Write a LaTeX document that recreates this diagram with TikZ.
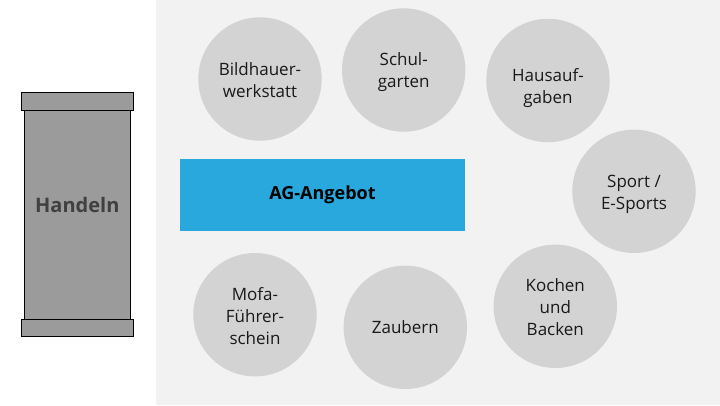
\documentclass[tikz,border=0pt]{standalone}
\usepackage{fontspec}
\setmainfont{Open Sans}
\definecolor{panel}{HTML}{F2F2F2}
\definecolor{bubble}{HTML}{D3D3D3}
\definecolor{pillar}{HTML}{9B9B9B}
\definecolor{agblue}{HTML}{29A8DD}
\definecolor{pillartext}{HTML}{404040}
\begin{document}
\begin{tikzpicture}[x=1pt,y=-1pt,
  bubblenode/.style={circle,fill=bubble,minimum size=123.4pt,inner sep=0pt},
  bubbletext/.style={align=center,inner sep=0pt,font=\fontsize{17}{22}\selectfont,text=black!90},
  capbox/.style={draw=black,line width=0.9pt,fill=pillar},
]
\useasboundingbox (0,0) rectangle (720,405);
\fill[white] (0,0) rectangle (720,405);
\fill[panel] (156,0) rectangle (720,405);
% pillar
\node[capbox,minimum width=106pt,minimum height=209.5pt,inner sep=0pt] (body) at (77.3,214.6) {};
\node[capbox,minimum width=112.4pt,minimum height=18pt,inner sep=0pt] (topcap) at (77.5,101.3) {};
\node[capbox,minimum width=112.4pt,minimum height=17pt,inner sep=0pt] (botcap) at (77.5,327.8) {};
\node[font=\fontsize{20}{24}\selectfont\bfseries,text=pillartext,inner sep=0pt] (handeln) at (77.3,205) {Handeln};
% AG box
\node[fill=agblue,minimum width=285pt,minimum height=71.7pt,inner sep=0pt,
  font=\fontsize{18}{22}\selectfont\bfseries] (ag) at (322.5,194.8) {AG-Angebot};
% bubbles
\node[bubblenode] (b1) at (260,79) {};
\node[bubbletext] (t1) at (260,80) {Bildhauer-\\werkstatt};
\node[bubblenode] (b2) at (403.7,70) {};
\node[bubbletext] (t2) at (403.7,72) {Schul-\\garten};
\node[bubblenode] (b3) at (548,80.5) {};
\node[bubbletext] (t3) at (548,88) {Hausauf-\\gaben};
\node[bubblenode] (b4) at (634,191.3) {};
\node[bubbletext] (t4) at (634,194) {Sport /\\E-Sports};
\node[bubblenode] (b5) at (555.3,306.3) {};
\node[bubbletext] (t5) at (555.3,307) {Kochen\\und\\Backen};
\node[bubblenode] (b6) at (405.3,327.3) {};
\node[bubbletext] (t6) at (405.3,327.3) {Zaubern};
\node[bubblenode] (b7) at (255,314.7) {};
\node[bubbletext] (t7) at (255,316.5) {Mofa-\\Führer-\\schein};
\end{tikzpicture}
\end{document}
